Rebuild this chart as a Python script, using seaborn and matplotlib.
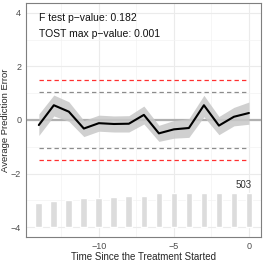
import numpy as np
import pandas as pd
import seaborn as sns
import matplotlib.pyplot as plt
from matplotlib.ticker import MultipleLocator

# data
periods = [-14, -13, -12, -11, -10, -9, -8, -7, -6, -5, -4, -3, -2, -1, 0]
att = [-0.19, 0.55, 0.31, -0.32, -0.12, -0.15, -0.14, 0.19, -0.50, -0.35, -0.30, 0.55, -0.21, 0.12, 0.26]
ci_low = [-0.58, 0.15, -0.05, -0.62, -0.42, -0.45, -0.45, -0.15, -0.80, -0.68, -0.65, 0.12, -0.55, -0.22, -0.16]
ci_high = [0.22, 0.93, 0.68, -0.02, 0.18, 0.15, 0.16, 0.52, -0.20, -0.02, 0.05, 0.92, 0.13, 0.47, 0.67]
counts = [354, 377, 401, 420, 432, 448, 460, 463, 503, 503, 503, 503, 503, 503, 503]
f_p = 0.182
tost_p = 0.001
bound = 1.5
bound_inner = 1.05

df = pd.DataFrame({"time": periods, "att": att, "lo": ci_low, "hi": ci_high, "n": counts})

sns.set_theme(style="white")
plt.rcParams["font.family"] = ["Liberation Sans", "DejaVu Sans"]

fig = plt.figure(figsize=(2.66, 2.66), dpi=100)
ax = fig.add_axes([0.098, 0.109, 0.883, 0.880])

# grid like ggplot theme_bw
ax.xaxis.set_major_locator(MultipleLocator(5))
ax.xaxis.set_minor_locator(MultipleLocator(2.5))
ax.yaxis.set_major_locator(MultipleLocator(2))
ax.yaxis.set_minor_locator(MultipleLocator(1))
ax.grid(which="major", color="#EBEBEB", lw=0.8)
ax.grid(which="minor", color="#F3F3F3", lw=0.5)
ax.set_axisbelow(True)

# count bars at the bottom
bar_base = -4
bar_scale = 1.28 / max(counts)
ax.bar(df["time"], df["n"] * bar_scale, bottom=bar_base, width=0.45,
       color="#DCDCDC", zorder=1)
ax.annotate(str(counts[-1]), (periods[-1], bar_base + counts[-1] * bar_scale),
            xytext=(-4, 2), textcoords="offset points", ha="center", va="bottom",
            fontsize=7, color="#333333")

ax.axhline(0, color="#B0B0B0", lw=1.6, zorder=2)
ax.hlines([bound, -bound], periods[0], periods[-1], colors="#FF3030",
          linestyles=(0, (3.5, 2.5)), lw=0.9, zorder=2)
ax.hlines([bound_inner, -bound_inner], periods[0], periods[-1], colors="#8C8C8C",
          linestyles=(0, (3.5, 2.5)), lw=0.9, zorder=2)

ax.fill_between(df["time"], df["lo"], df["hi"], color="#C8C8C8", alpha=0.85,
                lw=0, zorder=3)
sns.lineplot(data=df, x="time", y="att", color="black", lw=1.5, ax=ax, zorder=4)

ax.text(periods[0], 3.8, f"F test p\u2212value: {f_p}", fontsize=7.5,
        color="#111111", va="center")
ax.text(periods[0], 3.2, f"TOST max p\u2212value: {tost_p:.3f}", fontsize=7.5,
        color="#111111", va="center")

ax.set_xlim(-14.85, 0.8)
ax.set_ylim(-4.37, 4.37)
ax.set_xticks([-10, -5, 0])
ax.set_xticklabels(["\u221210", "\u22125", "0"])
ax.set_yticks([-4, -2, 0, 2, 4])
ax.set_yticklabels(["\u22124", "\u22122", "0", "2", "4"])
ax.tick_params(which="major", length=2, width=0.6, color="#333333",
               labelsize=6.5, labelcolor="#4D4D4D", pad=1.5)
ax.tick_params(which="minor", length=0)
for s in ax.spines.values():
    s.set_color("#7F7F7F")
    s.set_linewidth(0.8)

ax.set_xlabel("Time Since the Treatment Started", fontsize=7, labelpad=1)
ax.set_ylabel("Average Prediction Error", fontsize=6.8, labelpad=1)

fig.savefig("out.png", dpi=100)
